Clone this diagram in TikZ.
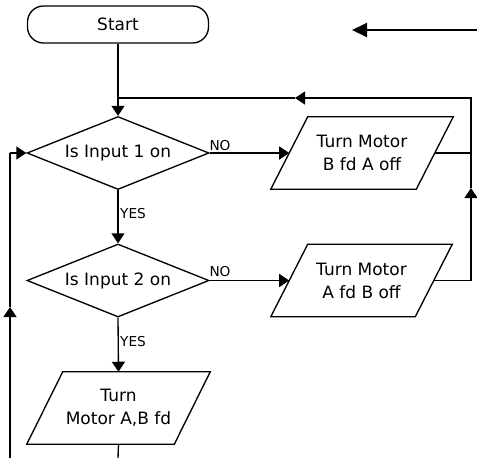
\documentclass[tikz,border=0pt]{standalone}
\usepackage{fontspec}
\setmainfont{DejaVu Sans}
\usetikzlibrary{shapes.geometric,arrows.meta,calc}
\begin{document}
\begin{tikzpicture}[x=0.75pt,y=-0.75pt,
  line/.style={line width=1pt},
  tip/.style={-{Triangle[length=7.5pt,width=9.75pt]}},
  txt/.style={font=\fontsize{12.75}{17.25}\selectfont, align=center},
  lbl/.style={font=\fontsize{10.25}{12}\selectfont, inner sep=0},
  term/.style={txt, draw, line width=1pt, rounded corners=12pt, minimum width=135.75pt, minimum height=27.75pt, inner sep=0},
  dec/.style={txt, draw, line width=1pt, diamond, aspect=2.5, inner sep=0, minimum width=136.5pt, minimum height=54.75pt},
  io/.style={txt, inner sep=0, minimum width=#1, minimum height=54pt},
]
\useasboundingbox (0,0) rectangle (477,458);

% nodes
\node[term] (start) at (118,24.5) {Start};
\node[dec] (d1) at (118,153) {Is Input 1 on};
\node[dec] (d2) at (118,280.5) {Is Input 2 on};
\node[io=108.75pt] (b1) at (362,153) {Turn Motor\\B fd A off};
\node[io=108pt] (b2) at (361.5,280.5) {Turn Motor\\A fd B off};
\node[io=110.25pt] (b3) at (118.5,408) {Turn\\Motor A,B fd};

% parallelogram outlines
\foreach \n/\s in {b1/18.5,b2/18.5,b3/18}
  \draw[line] ($(\n.north west)+(\s,0)$) -- ($(\n.north east)+(\s,0)$)
     -- ($(\n.south east)+(-\s,0)$) -- ($(\n.south west)+(-\s,0)$) -- cycle;

% helper coordinates
\coordinate (j1) at (118,98);
\coordinate (rtop) at (471,98);
\coordinate (ta) at (295,98);
\coordinate (rb1) at (471,153);
\coordinate (rb2) at (471,280.5);
\coordinate (ra) at (471,188);
\coordinate (lb) at (10,458);
\coordinate (la) at (10,307);
\coordinate (lt) at (10,153);
\coordinate (bb) at (118,458);
\coordinate (ar1) at (477,30);
\coordinate (ar2) at (352,30);

% main flow
\draw[line,tip] (start.south) -- (d1.north);
\draw[line,tip] (d1.east) -- (b1.west);
\draw[line,tip] (d1.south) -- (d2.north);
\draw[line,tip] (d2.east) -- (b2.west);
\draw[line,tip] (d2.south) -- (b3.north);
\draw[line] (b3.south) -- (bb);

% right loop
\draw[line] (b1.east) -- (rb1);
\draw[line,tip] (b2.east) -- (rb2) -- (ra);
\draw[line,tip] (ra) -- (rtop) -- (ta);
\draw[line] (ta) -- (j1);

% left loop
\draw[line,tip] (lb) -- (la);
\draw[line] (la) -- (lt);
\draw[line,tip] (lt) -- (d1.west);

% top-right arrow
\draw[line width=1.5pt,-{Triangle[length=11.25pt,width=10.5pt]}] (ar1) -- (ar2);

% labels
\node[lbl] (no1) at (220,146) {NO};
\node[lbl] (yes1) at (133,214) {YES};
\node[lbl] (no2) at (220,272) {NO};
\node[lbl] (yes2) at (133,342) {YES};
\end{tikzpicture}
\end{document}
